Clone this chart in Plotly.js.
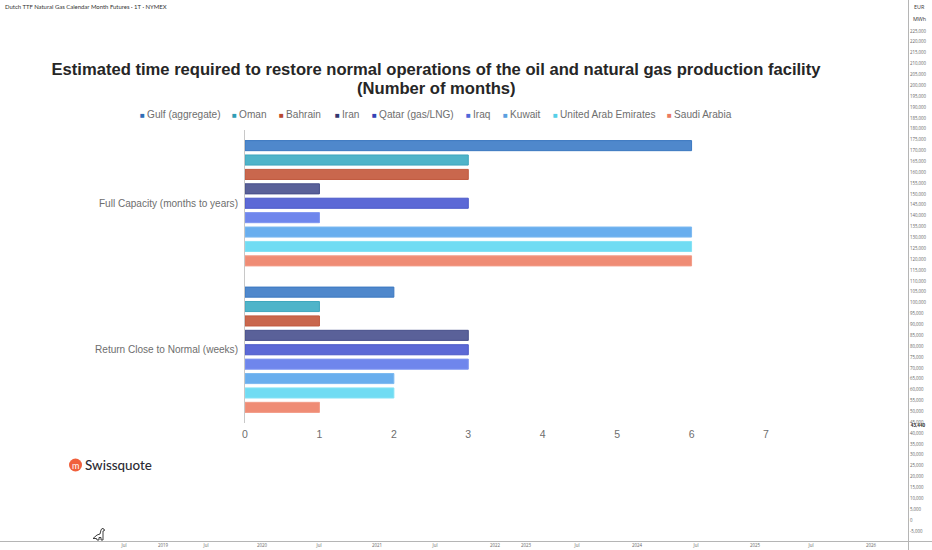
<!DOCTYPE html>
<html>
<head>
<meta charset="utf-8">
<script src="https://cdn.plot.ly/plotly-3.0.1.min.js"></script>
<style>
  html, body { margin: 0; padding: 0; background: #fff; }
  #chart { width: 932px; height: 550px; }
</style>
</head>
<body>
<div id="chart"></div>
<script>
const W = 932;
const H = 550;

const categories = ["Full Capacity (months to years)", "Return Close to Normal (weeks)"];
const countries = ["Gulf (aggregate)", "Oman", "Bahrain", "Iran", "Qatar (gas/LNG)", "Iraq", "Kuwait", "United Arab Emirates", "Saudi Arabia"];
const fullCapacity = [6, 3, 3, 1, 3, 1, 6, 6, 6];
const returnToNormal = [2, 1, 1, 3, 3, 3, 2, 2, 1];
const fillColors = ["#4f88cc", "#4fb4c9", "#c9674d", "#5a6199", "#5c69d6", "#6f86ec", "#69aeee", "#70dcf3", "#ef8c75"];
const lineColors = ["#3b78c0", "#3fa6bd", "#c05a3f", "#474f8a", "#4a58c8", "#7f95f0", "#7cb9f0", "#84e2f5", "#f29c88"];
const swatchColors = ["#2f6db5", "#2f9db5", "#b9482c", "#33386f", "#3343b5", "#4f68d8", "#5a9fe0", "#55cfe8", "#ea7a60"];

const priceAxisTicks = [225000, 220000, 215000, 210000, 205000, 200000, 195000, 190000, 185000, 180000, 175000, 170000, 165000, 160000, 155000, 150000, 145000, 140000, 135000, 130000, 125000, 120000, 115000, 110000, 105000, 100000, 95000, 90000, 85000, 80000, 75000, 70000, 65000, 60000, 55000, 50000, 45000, 40000, 35000, 30000, 25000, 20000, 15000, 10000, 5000, 0, -5000];
const lastPrice = [43440];
const timeLabels = ["Jul", "2019", "Jul", "2020", "Jul", "2021", "Jul", "2022", "2023", "Jul", "2024", "Jul", "2025", "Jul", "2026"];
const timeBars = [124, 163, 206, 262, 319, 377, 435, 495, 526, 577, 637, 696, 755, 811, 871];

// pixel helpers, the layout below is placed from the top left of the shot
const px = (x) => x / W;
const py = (y) => 1 - y / H;

const legendLeft = [138, 230, 277, 333, 370, 464, 501, 551, 665];

const traces = countries.map((name, i) => ({
  type: "bar",
  orientation: "h",
  name: name,
  y: categories,
  x: [fullCapacity[i], returnToNormal[i]],
  marker: { color: fillColors[i], line: { color: lineColors[i], width: 1 } },
  hoverinfo: "x+name",
}));

traces.push({
  type: "scatter",
  mode: "text",
  xaxis: "x2",
  yaxis: "y2",
  x: [918],
  y: lastPrice,
  text: lastPrice.map((v) => v.toLocaleString("en-US")),
  textposition: "middle center",
  textfont: { family: "Open Sans, sans-serif", size: 4.6, color: "#333", weight: 700 },
  hoverinfo: "skip",
  showlegend: false,
});

const legendNotes = countries.map((name, i) => ({
  xref: "paper",
  yref: "paper",
  x: px(legendLeft[i]),
  y: py(114),
  xanchor: "left",
  yanchor: "middle",
  showarrow: false,
  align: "left",
  text: `<span style="color:${swatchColors[i]};font-size:8px">■\u00a0</span>${name}`,
  font: { family: "Liberation Sans, Arial, sans-serif", size: 10.1, color: "#6e6e6e" },
}));

const note = (x, y, text, size, color, family, anchor, weight) => ({
  xref: "paper",
  yref: "paper",
  x: px(x),
  y: py(y),
  xanchor: anchor || "left",
  yanchor: "middle",
  showarrow: false,
  text: text,
  font: { family: family || "Lato, sans-serif", size: size, color: color, weight: weight || 400 },
});

const layout = {
  width: W,
  height: H,
  margin: { l: 0, r: 0, t: 0, b: 0 },
  paper_bgcolor: "#fff",
  plot_bgcolor: "rgba(0,0,0,0)",
  showlegend: false,
  barmode: "group",
  bargap: 0.115,
  bargroupgap: 0.3,
  title: {
    text: "Estimated time required to restore normal operations of the oil and natural gas production facility",
    font: { family: "Liberation Sans, Arial, sans-serif", size: 16.6, color: "#262626", weight: 700 },
    x: px(436),
    xanchor: "center",
    y: py(69),
    yanchor: "middle",
  },
  xaxis: {
    domain: [px(245), px(766)],
    range: [0, 7],
    dtick: 1,
    showgrid: false,
    zeroline: false,
    showline: false,
    ticks: "",
    ticklabelstandoff: 3,
    tickfont: { family: "Liberation Sans, Arial, sans-serif", size: 10.5, color: "#6e6e6e" },
  },
  yaxis: {
    domain: [py(423), py(130)],
    type: "category",
    autorange: "reversed",
    showgrid: false,
    zeroline: false,
    showline: true,
    linecolor: "#c8c8c8",
    linewidth: 1,
    ticks: "",
    ticklabelstandoff: 4,
    tickfont: { family: "Liberation Sans, Arial, sans-serif", size: 10.05, color: "#6e6e6e" },
  },
  xaxis2: {
    anchor: "free",
    position: 9 / H,
    domain: [0, 1],
    range: [0, W],
    tickmode: "array",
    tickvals: timeBars,
    ticktext: timeLabels,
    tickangle: 0,
    showgrid: false,
    zeroline: false,
    showline: true,
    linecolor: "#b5b5b5",
    linewidth: 1,
    ticks: "",
    tickfont: { family: "Open Sans, sans-serif", size: 4.4, color: "#666" },
  },
  yaxis2: {
    anchor: "free",
    position: px(908),
    side: "right",
    domain: [0, 1],
    range: [-13740, 239260],
    tickmode: "array",
    tickvals: priceAxisTicks,
    ticktext: priceAxisTicks.map((v) => v.toLocaleString("en-US")),
    showgrid: false,
    zeroline: false,
    showline: true,
    linecolor: "#b5b5b5",
    linewidth: 1,
    ticks: "",
    tickfont: { family: "Open Sans, sans-serif", size: 4.4, color: "#666" },
  },
  shapes: [
    {
      type: "circle",
      xref: "paper",
      yref: "paper",
      xsizemode: "pixel",
      ysizemode: "pixel",
      xanchor: px(75.5),
      yanchor: py(465),
      x0: -6.5,
      x1: 6.5,
      y0: -6.5,
      y1: 6.5,
      fillcolor: "#f0603c",
      line: { width: 0 },
    },
    {
      // the small dinosaur mark at the foot of the chart
      type: "path",
      xref: "paper",
      yref: "paper",
      xsizemode: "pixel",
      ysizemode: "pixel",
      xanchor: px(99),
      yanchor: py(534),
      path: "M-6,-4.5 L-2,-1 L1,0 L2,4 L3,5.5 L5,5 L5.5,3.5 L4,3 L4,-6 L2,-6 L2,-3.5 L0,-3.5 L0,-6 L-2,-6 L-2.5,-4.5 Z",
      fillcolor: "#fff",
      line: { color: "#2a2a2a", width: 0.9 },
    },
  ],
  annotations: legendNotes.concat([
    note(436, 88, "(Number of months)", 16.6, "#262626", "Liberation Sans, Arial, sans-serif", "center", 700),
    note(3, 7, "Dutch TTF Natural Gas Calendar Month Futures · 1T · NYMEX", 5.95, "#333"),
    note(919, 7, "EUR", 5.4, "#333", "Open Sans, sans-serif", "center"),
    note(919, 19, "MWh", 5.4, "#333", "Open Sans, sans-serif", "center"),
    note(75.5, 465, "m", 9, "#fff", "Lato, sans-serif", "center"),
    note(83, 465, "Swissquote", 13.4, "#2b2b33", "Lato, sans-serif", "left", 500),
  ]),
};

Plotly.newPlot("chart", traces, layout, { displayModeBar: false, responsive: false });
</script>
</body>
</html>
